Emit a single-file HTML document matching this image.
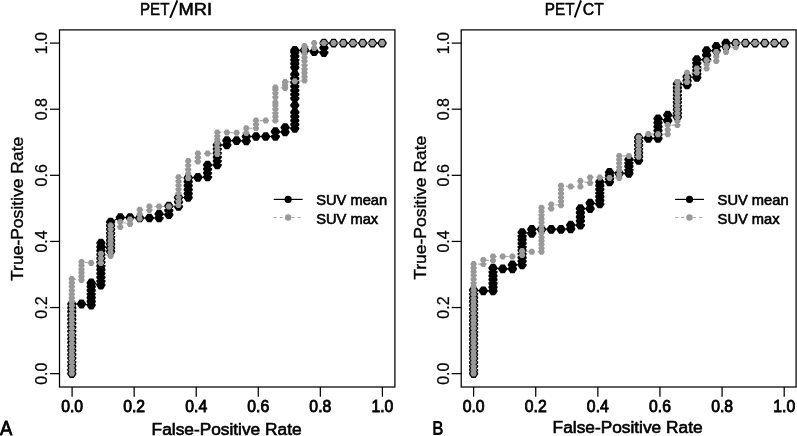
<!DOCTYPE html>
<html><head><meta charset="utf-8"><style>
html,body{margin:0;padding:0;background:#fff;}
svg{display:block;will-change:transform;}
text{font-family:"Liberation Sans",sans-serif;fill:#000;}
</style></head><body>
<svg width="797" height="436" viewBox="0 0 797 436">
<rect x="0" y="0" width="797" height="436" fill="#fff"/>
<rect x="59.5" y="29.9" width="335.40" height="357.10" fill="none" stroke="#000" stroke-width="1.25"/>
<line x1="50.00" y1="373.65" x2="59.5" y2="373.65" stroke="#000" stroke-width="1.25"/>
<line x1="72.10" y1="387.0" x2="72.10" y2="396.70" stroke="#000" stroke-width="1.25"/>
<line x1="50.00" y1="307.54" x2="59.5" y2="307.54" stroke="#000" stroke-width="1.25"/>
<line x1="134.16" y1="387.0" x2="134.16" y2="396.70" stroke="#000" stroke-width="1.25"/>
<line x1="50.00" y1="241.43" x2="59.5" y2="241.43" stroke="#000" stroke-width="1.25"/>
<line x1="196.22" y1="387.0" x2="196.22" y2="396.70" stroke="#000" stroke-width="1.25"/>
<line x1="50.00" y1="175.32" x2="59.5" y2="175.32" stroke="#000" stroke-width="1.25"/>
<line x1="258.28" y1="387.0" x2="258.28" y2="396.70" stroke="#000" stroke-width="1.25"/>
<line x1="50.00" y1="109.21" x2="59.5" y2="109.21" stroke="#000" stroke-width="1.25"/>
<line x1="320.34" y1="387.0" x2="320.34" y2="396.70" stroke="#000" stroke-width="1.25"/>
<line x1="50.00" y1="43.10" x2="59.5" y2="43.10" stroke="#000" stroke-width="1.25"/>
<line x1="382.40" y1="387.0" x2="382.40" y2="396.70" stroke="#000" stroke-width="1.25"/>
<path d="M71.80,373.65 L71.80,369.78 L71.80,365.91 L71.80,362.04 L71.80,358.17 L71.80,354.30 L71.80,350.43 L71.80,346.56 L71.80,342.69 L71.80,338.82 L71.80,334.96 L71.80,331.09 L71.80,327.22 L71.80,323.35 L71.80,319.48 L71.80,315.61 L71.80,311.74 L71.80,307.87 L71.80,304.00 L81.50,304.00 L91.19,305.00 L91.19,301.33 L91.19,297.67 L91.19,294.00 L91.19,290.33 L91.19,286.67 L91.19,283.00 L100.89,285.00 L100.89,281.18 L100.89,277.36 L100.89,273.55 L100.89,269.73 L100.89,265.91 L100.89,262.09 L100.89,258.27 L100.89,254.45 L100.89,250.64 L100.89,246.82 L100.89,243.00 L110.59,251.50 L110.59,247.81 L110.59,244.12 L110.59,240.44 L110.59,236.75 L110.59,233.06 L110.59,229.38 L110.59,225.69 L110.59,222.00 L120.28,217.50 L129.98,217.50 L139.68,218.00 L149.38,218.00 L159.07,218.00 L159.07,214.00 L168.77,214.70 L168.77,210.35 L168.77,206.00 L178.47,206.50 L178.47,202.00 L178.47,197.50 L188.16,197.50 L188.16,193.56 L188.16,189.62 L188.16,185.68 L188.16,181.74 L188.16,177.80 L197.86,177.40 L207.56,177.00 L207.56,173.00 L207.56,169.00 L207.56,165.00 L217.25,165.00 L217.25,161.00 L217.25,157.00 L217.25,153.00 L217.25,149.00 L217.25,145.00 L226.95,145.00 L226.95,140.60 L236.65,140.60 L246.34,141.00 L246.34,136.50 L256.04,136.50 L265.74,136.50 L275.43,136.50 L275.43,131.60 L285.13,132.00 L285.13,127.50 L294.83,128.50 L294.83,124.50 L294.83,120.50 L294.83,116.50 L294.83,112.30 L294.83,105.30 L294.83,98.30 L294.83,94.30 L294.83,90.30 L294.83,86.30 L294.83,82.30 L294.83,78.30 L294.83,74.30 L294.83,67.50 L294.83,63.70 L294.83,59.90 L294.83,56.10 L294.83,52.20 L294.83,50.30 L304.52,50.30 L314.22,51.70 L323.92,52.50 L323.92,47.80 L323.92,43.10 L333.62,43.10 L343.31,43.10 L353.01,43.10 L362.71,43.10 L372.40,43.10 L382.10,43.10" fill="none" stroke="#000" stroke-width="1.1"/>
<path fill="#000" d="M67.2,373 69.8,369.3 73.8,369.3 76.4,373 76.4,374.2 73.8,378 69.8,378 67.2,374.2ZM67.2,369.2 69.8,365.4 73.8,365.4 76.4,369.2 76.4,370.4 73.8,374.1 69.8,374.1 67.2,370.4ZM67.2,365.3 69.8,361.6 73.8,361.6 76.4,365.3 76.4,366.5 73.8,370.3 69.8,370.3 67.2,366.5ZM67.2,361.4 69.8,357.7 73.8,357.7 76.4,361.4 76.4,362.6 73.8,366.4 69.8,366.4 67.2,362.6ZM67.2,357.6 69.8,353.8 73.8,353.8 76.4,357.6 76.4,358.8 73.8,362.5 69.8,362.5 67.2,358.8ZM67.2,353.7 69.8,350 73.8,350 76.4,353.7 76.4,354.9 73.8,358.7 69.8,358.7 67.2,354.9ZM67.2,349.8 69.8,346.1 73.8,346.1 76.4,349.8 76.4,351 73.8,354.8 69.8,354.8 67.2,351ZM67.2,346 69.8,342.2 73.8,342.2 76.4,346 76.4,347.2 73.8,350.9 69.8,350.9 67.2,347.2ZM67.2,342.1 69.8,338.3 73.8,338.3 76.4,342.1 76.4,343.3 73.8,347 69.8,347 67.2,343.3ZM67.2,338.2 69.8,334.5 73.8,334.5 76.4,338.2 76.4,339.4 73.8,343.2 69.8,343.2 67.2,339.4ZM67.2,334.4 69.8,330.6 73.8,330.6 76.4,334.4 76.4,335.6 73.8,339.3 69.8,339.3 67.2,335.6ZM67.2,330.5 69.8,326.7 73.8,326.7 76.4,330.5 76.4,331.7 73.8,335.4 69.8,335.4 67.2,331.7ZM67.2,326.6 69.8,322.9 73.8,322.9 76.4,326.6 76.4,327.8 73.8,331.6 69.8,331.6 67.2,327.8ZM67.2,322.7 69.8,319 73.8,319 76.4,322.7 76.4,323.9 73.8,327.7 69.8,327.7 67.2,323.9ZM67.2,318.9 69.8,315.1 73.8,315.1 76.4,318.9 76.4,320.1 73.8,323.8 69.8,323.8 67.2,320.1ZM67.2,315 69.8,311.3 73.8,311.3 76.4,315 76.4,316.2 73.8,320 69.8,320 67.2,316.2ZM67.2,311.1 69.8,307.4 73.8,307.4 76.4,311.1 76.4,312.3 73.8,316.1 69.8,316.1 67.2,312.3ZM67.2,307.3 69.8,303.5 73.8,303.5 76.4,307.3 76.4,308.5 73.8,312.2 69.8,312.2 67.2,308.5ZM67.2,303.4 69.8,299.6 73.8,299.6 76.4,303.4 76.4,304.6 73.8,308.4 69.8,308.4 67.2,304.6ZM76.9,303.4 79.5,299.6 83.5,299.6 86.1,303.4 86.1,304.6 83.5,308.4 79.5,308.4 76.9,304.6ZM86.6,304.4 89.2,300.6 93.2,300.6 95.8,304.4 95.8,305.6 93.2,309.4 89.2,309.4 86.6,305.6ZM86.6,300.7 89.2,297 93.2,297 95.8,300.7 95.8,301.9 93.2,305.7 89.2,305.7 86.6,301.9ZM86.6,297.1 89.2,293.3 93.2,293.3 95.8,297.1 95.8,298.3 93.2,302 89.2,302 86.6,298.3ZM86.6,293.4 89.2,289.6 93.2,289.6 95.8,293.4 95.8,294.6 93.2,298.4 89.2,298.4 86.6,294.6ZM86.6,289.7 89.2,286 93.2,286 95.8,289.7 95.8,290.9 93.2,294.7 89.2,294.7 86.6,290.9ZM86.6,286.1 89.2,282.3 93.2,282.3 95.8,286.1 95.8,287.3 93.2,291 89.2,291 86.6,287.3ZM86.6,282.4 89.2,278.6 93.2,278.6 95.8,282.4 95.8,283.6 93.2,287.4 89.2,287.4 86.6,283.6ZM96.3,284.4 98.9,280.6 102.9,280.6 105.5,284.4 105.5,285.6 102.9,289.4 98.9,289.4 96.3,285.6ZM96.3,280.6 98.9,276.8 102.9,276.8 105.5,280.6 105.5,281.8 102.9,285.5 98.9,285.5 96.3,281.8ZM96.3,276.8 98.9,273 102.9,273 105.5,276.8 105.5,278 102.9,281.7 98.9,281.7 96.3,278ZM96.3,272.9 98.9,269.2 102.9,269.2 105.5,272.9 105.5,274.1 102.9,277.9 98.9,277.9 96.3,274.1ZM96.3,269.1 98.9,265.4 102.9,265.4 105.5,269.1 105.5,270.3 102.9,274.1 98.9,274.1 96.3,270.3ZM96.3,265.3 98.9,261.6 102.9,261.6 105.5,265.3 105.5,266.5 102.9,270.3 98.9,270.3 96.3,266.5ZM96.3,261.5 98.9,257.7 102.9,257.7 105.5,261.5 105.5,262.7 102.9,266.4 98.9,266.4 96.3,262.7ZM96.3,257.7 98.9,253.9 102.9,253.9 105.5,257.7 105.5,258.9 102.9,262.6 98.9,262.6 96.3,258.9ZM96.3,253.9 98.9,250.1 102.9,250.1 105.5,253.9 105.5,255.1 102.9,258.8 98.9,258.8 96.3,255.1ZM96.3,250 98.9,246.3 102.9,246.3 105.5,250 105.5,251.2 102.9,255 98.9,255 96.3,251.2ZM96.3,246.2 98.9,242.5 102.9,242.5 105.5,246.2 105.5,247.4 102.9,251.2 98.9,251.2 96.3,247.4ZM96.3,242.4 98.9,238.7 102.9,238.7 105.5,242.4 105.5,243.6 102.9,247.3 98.9,247.3 96.3,243.6ZM106,250.9 108.6,247.2 112.6,247.2 115.2,250.9 115.2,252.1 112.6,255.8 108.6,255.8 106,252.1ZM106,247.2 108.6,243.5 112.6,243.5 115.2,247.2 115.2,248.4 112.6,252.2 108.6,252.2 106,248.4ZM106,243.5 108.6,239.8 112.6,239.8 115.2,243.5 115.2,244.7 112.6,248.5 108.6,248.5 106,244.7ZM106,239.8 108.6,236.1 112.6,236.1 115.2,239.8 115.2,241 112.6,244.8 108.6,244.8 106,241ZM106,236.2 108.6,232.4 112.6,232.4 115.2,236.2 115.2,237.3 112.6,241.1 108.6,241.1 106,237.3ZM106,232.5 108.6,228.7 112.6,228.7 115.2,232.5 115.2,233.7 112.6,237.4 108.6,237.4 106,233.7ZM106,228.8 108.6,225 112.6,225 115.2,228.8 115.2,230 112.6,233.7 108.6,233.7 106,230ZM106,225.1 108.6,221.3 112.6,221.3 115.2,225.1 115.2,226.3 112.6,230 108.6,230 106,226.3ZM106,221.4 108.6,217.7 112.6,217.7 115.2,221.4 115.2,222.6 112.6,226.3 108.6,226.3 106,222.6ZM115.7,216.9 118.3,213.2 122.3,213.2 124.9,216.9 124.9,218.1 122.3,221.8 118.3,221.8 115.7,218.1ZM125.4,216.9 128,213.2 132,213.2 134.6,216.9 134.6,218.1 132,221.8 128,221.8 125.4,218.1ZM135.1,217.4 137.7,213.7 141.7,213.7 144.3,217.4 144.3,218.6 141.7,222.3 137.7,222.3 135.1,218.6ZM144.8,217.4 147.4,213.7 151.4,213.7 154,217.4 154,218.6 151.4,222.3 147.4,222.3 144.8,218.6ZM154.5,217.4 157.1,213.7 161.1,213.7 163.7,217.4 163.7,218.6 161.1,222.3 157.1,222.3 154.5,218.6ZM154.5,213.4 157.1,209.7 161.1,209.7 163.7,213.4 163.7,214.6 161.1,218.3 157.1,218.3 154.5,214.6ZM164.2,214.1 166.8,210.3 170.8,210.3 173.4,214.1 173.4,215.3 170.8,219 166.8,219 164.2,215.3ZM164.2,209.8 166.8,206 170.8,206 173.4,209.8 173.4,210.9 170.8,214.7 166.8,214.7 164.2,210.9ZM164.2,205.4 166.8,201.7 170.8,201.7 173.4,205.4 173.4,206.6 170.8,210.3 166.8,210.3 164.2,206.6ZM173.9,205.9 176.5,202.2 180.5,202.2 183.1,205.9 183.1,207.1 180.5,210.8 176.5,210.8 173.9,207.1ZM173.9,201.4 176.5,197.7 180.5,197.7 183.1,201.4 183.1,202.6 180.5,206.3 176.5,206.3 173.9,202.6ZM173.9,196.9 176.5,193.2 180.5,193.2 183.1,196.9 183.1,198.1 180.5,201.8 176.5,201.8 173.9,198.1ZM183.6,196.9 186.2,193.2 190.2,193.2 192.8,196.9 192.8,198.1 190.2,201.8 186.2,201.8 183.6,198.1ZM183.6,193 186.2,189.2 190.2,189.2 192.8,193 192.8,194.2 190.2,197.9 186.2,197.9 183.6,194.2ZM183.6,189 186.2,185.3 190.2,185.3 192.8,189 192.8,190.2 190.2,194 186.2,194 183.6,190.2ZM183.6,185.1 186.2,181.3 190.2,181.3 192.8,185.1 192.8,186.3 190.2,190 186.2,190 183.6,186.3ZM183.6,181.1 186.2,177.4 190.2,177.4 192.8,181.1 192.8,182.3 190.2,186.1 186.2,186.1 183.6,182.3ZM183.6,177.2 186.2,173.5 190.2,173.5 192.8,177.2 192.8,178.4 190.2,182.2 186.2,182.2 183.6,178.4ZM193.3,176.8 195.9,173.1 199.9,173.1 202.5,176.8 202.5,178 199.9,181.8 195.9,181.8 193.3,178ZM203,176.4 205.6,172.7 209.6,172.7 212.2,176.4 212.2,177.6 209.6,181.3 205.6,181.3 203,177.6ZM203,172.4 205.6,168.7 209.6,168.7 212.2,172.4 212.2,173.6 209.6,177.3 205.6,177.3 203,173.6ZM203,168.4 205.6,164.7 209.6,164.7 212.2,168.4 212.2,169.6 209.6,173.3 205.6,173.3 203,169.6ZM203,164.4 205.6,160.7 209.6,160.7 212.2,164.4 212.2,165.6 209.6,169.3 205.6,169.3 203,165.6ZM212.7,164.4 215.3,160.7 219.3,160.7 221.9,164.4 221.9,165.6 219.3,169.3 215.3,169.3 212.7,165.6ZM212.7,160.4 215.3,156.7 219.3,156.7 221.9,160.4 221.9,161.6 219.3,165.3 215.3,165.3 212.7,161.6ZM212.7,156.4 215.3,152.7 219.3,152.7 221.9,156.4 221.9,157.6 219.3,161.3 215.3,161.3 212.7,157.6ZM212.7,152.4 215.3,148.7 219.3,148.7 221.9,152.4 221.9,153.6 219.3,157.3 215.3,157.3 212.7,153.6ZM212.7,148.4 215.3,144.7 219.3,144.7 221.9,148.4 221.9,149.6 219.3,153.3 215.3,153.3 212.7,149.6ZM212.7,144.4 215.3,140.7 219.3,140.7 221.9,144.4 221.9,145.6 219.3,149.3 215.3,149.3 212.7,145.6ZM222.3,144.4 224.9,140.7 228.9,140.7 231.5,144.4 231.5,145.6 228.9,149.3 224.9,149.3 222.3,145.6ZM222.3,140 224.9,136.2 228.9,136.2 231.5,140 231.5,141.2 228.9,144.9 224.9,144.9 222.3,141.2ZM232,140 234.6,136.2 238.6,136.2 241.2,140 241.2,141.2 238.6,144.9 234.6,144.9 232,141.2ZM241.7,140.4 244.3,136.7 248.3,136.7 250.9,140.4 250.9,141.6 248.3,145.3 244.3,145.3 241.7,141.6ZM241.7,135.9 244.3,132.2 248.3,132.2 250.9,135.9 250.9,137.1 248.3,140.8 244.3,140.8 241.7,137.1ZM251.4,135.9 254,132.2 258,132.2 260.6,135.9 260.6,137.1 258,140.8 254,140.8 251.4,137.1ZM261.1,135.9 263.7,132.2 267.7,132.2 270.3,135.9 270.3,137.1 267.7,140.8 263.7,140.8 261.1,137.1ZM270.8,135.9 273.4,132.2 277.4,132.2 280,135.9 280,137.1 277.4,140.8 273.4,140.8 270.8,137.1ZM270.8,131 273.4,127.2 277.4,127.2 280,131 280,132.2 277.4,135.9 273.4,135.9 270.8,132.2ZM280.5,131.4 283.1,127.7 287.1,127.7 289.7,131.4 289.7,132.6 287.1,136.3 283.1,136.3 280.5,132.6ZM280.5,126.9 283.1,123.2 287.1,123.2 289.7,126.9 289.7,128.1 287.1,131.8 283.1,131.8 280.5,128.1ZM290.2,127.9 292.8,124.2 296.8,124.2 299.4,127.9 299.4,129.1 296.8,132.8 292.8,132.8 290.2,129.1ZM290.2,123.9 292.8,120.2 296.8,120.2 299.4,123.9 299.4,125.1 296.8,128.8 292.8,128.8 290.2,125.1ZM290.2,119.9 292.8,116.2 296.8,116.2 299.4,119.9 299.4,121.1 296.8,124.8 292.8,124.8 290.2,121.1ZM290.2,115.9 292.8,112.2 296.8,112.2 299.4,115.9 299.4,117.1 296.8,120.8 292.8,120.8 290.2,117.1ZM290.2,111.7 292.8,108 296.8,108 299.4,111.7 299.4,112.9 296.8,116.6 292.8,116.6 290.2,112.9ZM290.2,104.7 292.8,101 296.8,101 299.4,104.7 299.4,105.9 296.8,109.6 292.8,109.6 290.2,105.9ZM290.2,97.7 292.8,94 296.8,94 299.4,97.7 299.4,98.9 296.8,102.6 292.8,102.6 290.2,98.9ZM290.2,93.7 292.8,90 296.8,90 299.4,93.7 299.4,94.9 296.8,98.6 292.8,98.6 290.2,94.9ZM290.2,89.7 292.8,86 296.8,86 299.4,89.7 299.4,90.9 296.8,94.6 292.8,94.6 290.2,90.9ZM290.2,85.7 292.8,82 296.8,82 299.4,85.7 299.4,86.9 296.8,90.6 292.8,90.6 290.2,86.9ZM290.2,81.7 292.8,78 296.8,78 299.4,81.7 299.4,82.9 296.8,86.6 292.8,86.6 290.2,82.9ZM290.2,77.7 292.8,74 296.8,74 299.4,77.7 299.4,78.9 296.8,82.6 292.8,82.6 290.2,78.9ZM290.2,73.7 292.8,70 296.8,70 299.4,73.7 299.4,74.9 296.8,78.6 292.8,78.6 290.2,74.9ZM290.2,66.9 292.8,63.1 296.8,63.1 299.4,66.9 299.4,68.1 296.8,71.8 292.8,71.8 290.2,68.1ZM290.2,63.1 292.8,59.4 296.8,59.4 299.4,63.1 299.4,64.3 296.8,68 292.8,68 290.2,64.3ZM290.2,59.3 292.8,55.5 296.8,55.5 299.4,59.3 299.4,60.5 296.8,64.2 292.8,64.2 290.2,60.5ZM290.2,55.5 292.8,51.8 296.8,51.8 299.4,55.5 299.4,56.7 296.8,60.5 292.8,60.5 290.2,56.7ZM290.2,51.6 292.8,47.9 296.8,47.9 299.4,51.6 299.4,52.8 296.8,56.6 292.8,56.6 290.2,52.8ZM290.2,49.7 292.8,45.9 296.8,45.9 299.4,49.7 299.4,50.9 296.8,54.6 292.8,54.6 290.2,50.9ZM299.9,49.7 302.5,45.9 306.5,45.9 309.1,49.7 309.1,50.9 306.5,54.6 302.5,54.6 299.9,50.9ZM309.6,51.1 312.2,47.4 316.2,47.4 318.8,51.1 318.8,52.3 316.2,56.1 312.2,56.1 309.6,52.3ZM319.3,51.9 321.9,48.1 325.9,48.1 328.5,51.9 328.5,53.1 325.9,56.9 321.9,56.9 319.3,53.1ZM319.3,47.2 321.9,43.4 325.9,43.4 328.5,47.2 328.5,48.4 325.9,52.1 321.9,52.1 319.3,48.4ZM319.3,42.5 321.9,38.8 325.9,38.8 328.5,42.5 328.5,43.7 325.9,47.5 321.9,47.5 319.3,43.7ZM329,42.5 331.6,38.8 335.6,38.8 338.2,42.5 338.2,43.7 335.6,47.5 331.6,47.5 329,43.7ZM338.7,42.5 341.3,38.8 345.3,38.8 347.9,42.5 347.9,43.7 345.3,47.5 341.3,47.5 338.7,43.7ZM348.4,42.5 351,38.8 355,38.8 357.6,42.5 357.6,43.7 355,47.5 351,47.5 348.4,43.7ZM358.1,42.5 360.7,38.8 364.7,38.8 367.3,42.5 367.3,43.7 364.7,47.5 360.7,47.5 358.1,43.7ZM367.8,42.5 370.4,38.8 374.4,38.8 377,42.5 377,43.7 374.4,47.5 370.4,47.5 367.8,43.7ZM377.5,42.5 380.1,38.8 384.1,38.8 386.7,42.5 386.7,43.7 384.1,47.5 380.1,47.5 377.5,43.7Z"/>
<path d="M71.80,373.65 L71.80,369.86 L71.80,366.08 L71.80,362.29 L71.80,358.51 L71.80,354.72 L71.80,350.93 L71.80,347.15 L71.80,343.36 L71.80,339.58 L71.80,335.79 L71.80,332.00 L71.80,328.22 L71.80,324.43 L71.80,320.65 L71.80,316.86 L71.80,313.07 L71.80,309.29 L71.80,305.50 L71.80,301.72 L71.80,297.93 L71.80,294.14 L71.80,290.36 L71.80,286.57 L71.80,282.79 L71.80,279.00 L81.50,280.00 L81.50,276.40 L81.50,272.80 L81.50,269.20 L81.50,265.60 L81.50,262.00 L91.19,263.00 L100.89,263.00 L100.89,258.35 L100.89,253.70 L110.59,256.00 L110.59,252.18 L110.59,248.35 L110.59,244.53 L110.59,240.70 L110.59,236.88 L110.59,233.05 L110.59,229.22 L110.59,225.40 L120.28,227.00 L120.28,222.00 L129.98,224.00 L129.98,219.50 L139.68,218.60 L139.68,214.20 L139.68,209.80 L149.38,210.00 L149.38,206.50 L159.07,206.50 L168.77,206.50 L178.47,205.00 L178.47,201.04 L178.47,197.09 L178.47,193.13 L178.47,189.17 L178.47,185.21 L178.47,181.26 L178.47,177.30 L188.16,178.00 L188.16,173.75 L188.16,169.50 L188.16,165.25 L188.16,161.00 L197.86,161.50 L197.86,157.50 L197.86,153.50 L207.56,153.50 L217.25,154.00 L217.25,150.40 L217.25,146.80 L217.25,143.20 L217.25,139.60 L217.25,136.00 L217.25,132.40 L226.95,132.40 L236.65,132.70 L246.34,133.00 L246.34,128.20 L256.04,128.20 L256.04,124.40 L256.04,120.60 L265.74,120.60 L275.43,120.60 L275.43,116.80 L275.43,113.00 L275.43,109.20 L275.43,105.40 L275.43,102.50 L275.43,97.00 L275.43,93.30 L275.43,89.60 L275.43,87.50 L285.13,88.00 L285.13,85.00 L285.13,82.00 L294.83,81.30 L304.52,80.50 L304.52,76.67 L304.52,72.83 L304.52,69.00 L304.52,65.17 L304.52,61.33 L304.52,57.50 L304.52,53.67 L304.52,49.83 L304.52,46.00 L314.22,48.00 L314.22,43.10 L323.92,43.10 L333.62,43.10 L343.31,43.10 L353.01,43.10 L362.71,43.10 L372.40,43.10 L382.10,43.10" fill="none" stroke="#aaa" stroke-width="1.1" stroke-dasharray="3,3"/>
<path fill="#999" d="M68.7,372.9 70.3,370.6 73.3,370.6 74.9,372.9 74.9,374.3 73.3,376.6 70.3,376.6 68.7,374.3ZM68.7,369.2 70.3,366.9 73.3,366.9 74.9,369.2 74.9,370.6 73.3,372.9 70.3,372.9 68.7,370.6ZM68.7,365.4 70.3,363.1 73.3,363.1 74.9,365.4 74.9,366.8 73.3,369.1 70.3,369.1 68.7,366.8ZM68.7,361.6 70.3,359.3 73.3,359.3 74.9,361.6 74.9,363 73.3,365.3 70.3,365.3 68.7,363ZM68.7,357.8 70.3,355.5 73.3,355.5 74.9,357.8 74.9,359.2 73.3,361.5 70.3,361.5 68.7,359.2ZM68.7,354 70.3,351.7 73.3,351.7 74.9,354 74.9,355.4 73.3,357.7 70.3,357.7 68.7,355.4ZM68.7,350.2 70.3,347.9 73.3,347.9 74.9,350.2 74.9,351.6 73.3,353.9 70.3,353.9 68.7,351.6ZM68.7,346.4 70.3,344.1 73.3,344.1 74.9,346.4 74.9,347.8 73.3,350.1 70.3,350.1 68.7,347.8ZM68.7,342.7 70.3,340.4 73.3,340.4 74.9,342.7 74.9,344.1 73.3,346.4 70.3,346.4 68.7,344.1ZM68.7,338.9 70.3,336.6 73.3,336.6 74.9,338.9 74.9,340.3 73.3,342.6 70.3,342.6 68.7,340.3ZM68.7,335.1 70.3,332.8 73.3,332.8 74.9,335.1 74.9,336.5 73.3,338.8 70.3,338.8 68.7,336.5ZM68.7,331.3 70.3,329 73.3,329 74.9,331.3 74.9,332.7 73.3,335 70.3,335 68.7,332.7ZM68.7,327.5 70.3,325.2 73.3,325.2 74.9,327.5 74.9,328.9 73.3,331.2 70.3,331.2 68.7,328.9ZM68.7,323.7 70.3,321.4 73.3,321.4 74.9,323.7 74.9,325.1 73.3,327.4 70.3,327.4 68.7,325.1ZM68.7,319.9 70.3,317.6 73.3,317.6 74.9,319.9 74.9,321.3 73.3,323.6 70.3,323.6 68.7,321.3ZM68.7,316.2 70.3,313.9 73.3,313.9 74.9,316.2 74.9,317.6 73.3,319.9 70.3,319.9 68.7,317.6ZM68.7,312.4 70.3,310.1 73.3,310.1 74.9,312.4 74.9,313.8 73.3,316.1 70.3,316.1 68.7,313.8ZM68.7,308.6 70.3,306.3 73.3,306.3 74.9,308.6 74.9,310 73.3,312.3 70.3,312.3 68.7,310ZM68.7,304.8 70.3,302.5 73.3,302.5 74.9,304.8 74.9,306.2 73.3,308.5 70.3,308.5 68.7,306.2ZM68.7,301 70.3,298.7 73.3,298.7 74.9,301 74.9,302.4 73.3,304.7 70.3,304.7 68.7,302.4ZM68.7,297.2 70.3,294.9 73.3,294.9 74.9,297.2 74.9,298.6 73.3,300.9 70.3,300.9 68.7,298.6ZM68.7,293.4 70.3,291.1 73.3,291.1 74.9,293.4 74.9,294.8 73.3,297.1 70.3,297.1 68.7,294.8ZM68.7,289.7 70.3,287.4 73.3,287.4 74.9,289.7 74.9,291.1 73.3,293.4 70.3,293.4 68.7,291.1ZM68.7,285.9 70.3,283.6 73.3,283.6 74.9,285.9 74.9,287.3 73.3,289.6 70.3,289.6 68.7,287.3ZM68.7,282.1 70.3,279.8 73.3,279.8 74.9,282.1 74.9,283.5 73.3,285.8 70.3,285.8 68.7,283.5ZM68.7,278.3 70.3,276 73.3,276 74.9,278.3 74.9,279.7 73.3,282 70.3,282 68.7,279.7ZM78.4,279.3 80,277 83,277 84.6,279.3 84.6,280.7 83,283 80,283 78.4,280.7ZM78.4,275.7 80,273.4 83,273.4 84.6,275.7 84.6,277.1 83,279.4 80,279.4 78.4,277.1ZM78.4,272.1 80,269.8 83,269.8 84.6,272.1 84.6,273.5 83,275.8 80,275.8 78.4,273.5ZM78.4,268.5 80,266.2 83,266.2 84.6,268.5 84.6,269.9 83,272.2 80,272.2 78.4,269.9ZM78.4,264.9 80,262.6 83,262.6 84.6,264.9 84.6,266.3 83,268.6 80,268.6 78.4,266.3ZM78.4,261.3 80,259 83,259 84.6,261.3 84.6,262.7 83,265 80,265 78.4,262.7ZM88.1,262.3 89.7,260 92.7,260 94.3,262.3 94.3,263.7 92.7,266 89.7,266 88.1,263.7ZM97.8,262.3 99.4,260 102.4,260 104,262.3 104,263.7 102.4,266 99.4,266 97.8,263.7ZM97.8,257.7 99.4,255.4 102.4,255.4 104,257.7 104,259.1 102.4,261.4 99.4,261.4 97.8,259.1ZM97.8,253 99.4,250.7 102.4,250.7 104,253 104,254.4 102.4,256.7 99.4,256.7 97.8,254.4ZM107.5,255.3 109.1,253 112.1,253 113.7,255.3 113.7,256.7 112.1,259 109.1,259 107.5,256.7ZM107.5,251.5 109.1,249.2 112.1,249.2 113.7,251.5 113.7,252.9 112.1,255.2 109.1,255.2 107.5,252.9ZM107.5,247.7 109.1,245.3 112.1,245.3 113.7,247.7 113.7,249 112.1,251.3 109.1,251.3 107.5,249ZM107.5,243.8 109.1,241.5 112.1,241.5 113.7,243.8 113.7,245.2 112.1,247.5 109.1,247.5 107.5,245.2ZM107.5,240 109.1,237.7 112.1,237.7 113.7,240 113.7,241.4 112.1,243.7 109.1,243.7 107.5,241.4ZM107.5,236.2 109.1,233.9 112.1,233.9 113.7,236.2 113.7,237.6 112.1,239.9 109.1,239.9 107.5,237.6ZM107.5,232.4 109.1,230.1 112.1,230.1 113.7,232.4 113.7,233.8 112.1,236.1 109.1,236.1 107.5,233.8ZM107.5,228.5 109.1,226.2 112.1,226.2 113.7,228.5 113.7,229.9 112.1,232.2 109.1,232.2 107.5,229.9ZM107.5,224.7 109.1,222.4 112.1,222.4 113.7,224.7 113.7,226.1 112.1,228.4 109.1,228.4 107.5,226.1ZM117.2,226.3 118.8,224 121.8,224 123.4,226.3 123.4,227.7 121.8,230 118.8,230 117.2,227.7ZM117.2,221.3 118.8,219 121.8,219 123.4,221.3 123.4,222.7 121.8,225 118.8,225 117.2,222.7ZM126.9,223.3 128.5,221 131.5,221 133.1,223.3 133.1,224.7 131.5,227 128.5,227 126.9,224.7ZM126.9,218.8 128.5,216.5 131.5,216.5 133.1,218.8 133.1,220.2 131.5,222.5 128.5,222.5 126.9,220.2ZM136.6,217.9 138.2,215.6 141.2,215.6 142.8,217.9 142.8,219.3 141.2,221.6 138.2,221.6 136.6,219.3ZM136.6,213.5 138.2,211.2 141.2,211.2 142.8,213.5 142.8,214.9 141.2,217.2 138.2,217.2 136.6,214.9ZM136.6,209.1 138.2,206.8 141.2,206.8 142.8,209.1 142.8,210.5 141.2,212.8 138.2,212.8 136.6,210.5ZM146.3,209.3 147.9,207 150.9,207 152.5,209.3 152.5,210.7 150.9,213 147.9,213 146.3,210.7ZM146.3,205.8 147.9,203.5 150.9,203.5 152.5,205.8 152.5,207.2 150.9,209.5 147.9,209.5 146.3,207.2ZM156,205.8 157.6,203.5 160.6,203.5 162.2,205.8 162.2,207.2 160.6,209.5 157.6,209.5 156,207.2ZM165.7,205.8 167.3,203.5 170.3,203.5 171.9,205.8 171.9,207.2 170.3,209.5 167.3,209.5 165.7,207.2ZM175.4,204.3 177,202 180,202 181.6,204.3 181.6,205.7 180,208 177,208 175.4,205.7ZM175.4,200.3 177,198 180,198 181.6,200.3 181.6,201.7 180,204 177,204 175.4,201.7ZM175.4,196.4 177,194.1 180,194.1 181.6,196.4 181.6,197.8 180,200.1 177,200.1 175.4,197.8ZM175.4,192.4 177,190.1 180,190.1 181.6,192.4 181.6,193.8 180,196.1 177,196.1 175.4,193.8ZM175.4,188.5 177,186.2 180,186.2 181.6,188.5 181.6,189.9 180,192.2 177,192.2 175.4,189.9ZM175.4,184.5 177,182.2 180,182.2 181.6,184.5 181.6,185.9 180,188.2 177,188.2 175.4,185.9ZM175.4,180.6 177,178.3 180,178.3 181.6,180.6 181.6,182 180,184.3 177,184.3 175.4,182ZM175.4,176.6 177,174.3 180,174.3 181.6,176.6 181.6,178 180,180.3 177,180.3 175.4,178ZM185.1,177.3 186.7,175 189.7,175 191.3,177.3 191.3,178.7 189.7,181 186.7,181 185.1,178.7ZM185.1,173.1 186.7,170.8 189.7,170.8 191.3,173.1 191.3,174.4 189.7,176.8 186.7,176.8 185.1,174.4ZM185.1,168.8 186.7,166.5 189.7,166.5 191.3,168.8 191.3,170.2 189.7,172.5 186.7,172.5 185.1,170.2ZM185.1,164.6 186.7,162.2 189.7,162.2 191.3,164.6 191.3,165.9 189.7,168.2 186.7,168.2 185.1,165.9ZM185.1,160.3 186.7,158 189.7,158 191.3,160.3 191.3,161.7 189.7,164 186.7,164 185.1,161.7ZM194.8,160.8 196.4,158.5 199.4,158.5 201,160.8 201,162.2 199.4,164.5 196.4,164.5 194.8,162.2ZM194.8,156.8 196.4,154.5 199.4,154.5 201,156.8 201,158.2 199.4,160.5 196.4,160.5 194.8,158.2ZM194.8,152.8 196.4,150.5 199.4,150.5 201,152.8 201,154.2 199.4,156.5 196.4,156.5 194.8,154.2ZM204.5,152.8 206.1,150.5 209.1,150.5 210.7,152.8 210.7,154.2 209.1,156.5 206.1,156.5 204.5,154.2ZM214.2,153.3 215.8,151 218.8,151 220.4,153.3 220.4,154.7 218.8,157 215.8,157 214.2,154.7ZM214.2,149.7 215.8,147.4 218.8,147.4 220.4,149.7 220.4,151.1 218.8,153.4 215.8,153.4 214.2,151.1ZM214.2,146.1 215.8,143.8 218.8,143.8 220.4,146.1 220.4,147.5 218.8,149.8 215.8,149.8 214.2,147.5ZM214.2,142.5 215.8,140.2 218.8,140.2 220.4,142.5 220.4,143.9 218.8,146.2 215.8,146.2 214.2,143.9ZM214.2,138.9 215.8,136.6 218.8,136.6 220.4,138.9 220.4,140.3 218.8,142.6 215.8,142.6 214.2,140.3ZM214.2,135.3 215.8,133 218.8,133 220.4,135.3 220.4,136.7 218.8,139 215.8,139 214.2,136.7ZM214.2,131.7 215.8,129.4 218.8,129.4 220.4,131.7 220.4,133.1 218.8,135.4 215.8,135.4 214.2,133.1ZM223.8,131.7 225.4,129.4 228.4,129.4 230,131.7 230,133.1 228.4,135.4 225.4,135.4 223.8,133.1ZM233.5,132 235.1,129.7 238.1,129.7 239.7,132 239.7,133.4 238.1,135.7 235.1,135.7 233.5,133.4ZM243.2,132.3 244.8,130 247.8,130 249.4,132.3 249.4,133.7 247.8,136 244.8,136 243.2,133.7ZM243.2,127.5 244.8,125.2 247.8,125.2 249.4,127.5 249.4,128.9 247.8,131.2 244.8,131.2 243.2,128.9ZM252.9,127.5 254.5,125.2 257.5,125.2 259.1,127.5 259.1,128.9 257.5,131.2 254.5,131.2 252.9,128.9ZM252.9,123.7 254.5,121.4 257.5,121.4 259.1,123.7 259.1,125.1 257.5,127.4 254.5,127.4 252.9,125.1ZM252.9,119.9 254.5,117.6 257.5,117.6 259.1,119.9 259.1,121.3 257.5,123.6 254.5,123.6 252.9,121.3ZM262.6,119.9 264.2,117.6 267.2,117.6 268.8,119.9 268.8,121.3 267.2,123.6 264.2,123.6 262.6,121.3ZM272.3,119.9 273.9,117.6 276.9,117.6 278.5,119.9 278.5,121.3 276.9,123.6 273.9,123.6 272.3,121.3ZM272.3,116.1 273.9,113.8 276.9,113.8 278.5,116.1 278.5,117.5 276.9,119.8 273.9,119.8 272.3,117.5ZM272.3,112.3 273.9,110 276.9,110 278.5,112.3 278.5,113.7 276.9,116 273.9,116 272.3,113.7ZM272.3,108.5 273.9,106.2 276.9,106.2 278.5,108.5 278.5,109.9 276.9,112.2 273.9,112.2 272.3,109.9ZM272.3,104.7 273.9,102.4 276.9,102.4 278.5,104.7 278.5,106.1 276.9,108.4 273.9,108.4 272.3,106.1ZM272.3,101.8 273.9,99.5 276.9,99.5 278.5,101.8 278.5,103.2 276.9,105.5 273.9,105.5 272.3,103.2ZM272.3,96.3 273.9,94 276.9,94 278.5,96.3 278.5,97.7 276.9,100 273.9,100 272.3,97.7ZM272.3,92.6 273.9,90.3 276.9,90.3 278.5,92.6 278.5,94 276.9,96.3 273.9,96.3 272.3,94ZM272.3,88.9 273.9,86.6 276.9,86.6 278.5,88.9 278.5,90.3 276.9,92.6 273.9,92.6 272.3,90.3ZM272.3,86.8 273.9,84.5 276.9,84.5 278.5,86.8 278.5,88.2 276.9,90.5 273.9,90.5 272.3,88.2ZM282,87.3 283.6,85 286.6,85 288.2,87.3 288.2,88.7 286.6,91 283.6,91 282,88.7ZM282,84.3 283.6,82 286.6,82 288.2,84.3 288.2,85.7 286.6,88 283.6,88 282,85.7ZM282,81.3 283.6,79 286.6,79 288.2,81.3 288.2,82.7 286.6,85 283.6,85 282,82.7ZM291.7,80.6 293.3,78.3 296.3,78.3 297.9,80.6 297.9,82 296.3,84.3 293.3,84.3 291.7,82ZM301.4,79.8 303,77.5 306,77.5 307.6,79.8 307.6,81.2 306,83.5 303,83.5 301.4,81.2ZM301.4,76 303,73.7 306,73.7 307.6,76 307.6,77.4 306,79.7 303,79.7 301.4,77.4ZM301.4,72.1 303,69.8 306,69.8 307.6,72.1 307.6,73.5 306,75.8 303,75.8 301.4,73.5ZM301.4,68.3 303,66 306,66 307.6,68.3 307.6,69.7 306,72 303,72 301.4,69.7ZM301.4,64.5 303,62.2 306,62.2 307.6,64.5 307.6,65.9 306,68.2 303,68.2 301.4,65.9ZM301.4,60.6 303,58.3 306,58.3 307.6,60.6 307.6,62 306,64.3 303,64.3 301.4,62ZM301.4,56.8 303,54.5 306,54.5 307.6,56.8 307.6,58.2 306,60.5 303,60.5 301.4,58.2ZM301.4,53 303,50.7 306,50.7 307.6,53 307.6,54.4 306,56.7 303,56.7 301.4,54.4ZM301.4,49.1 303,46.8 306,46.8 307.6,49.1 307.6,50.5 306,52.8 303,52.8 301.4,50.5ZM301.4,45.3 303,43 306,43 307.6,45.3 307.6,46.7 306,49 303,49 301.4,46.7ZM311.1,47.3 312.7,45 315.7,45 317.3,47.3 317.3,48.7 315.7,51 312.7,51 311.1,48.7ZM311.1,42.4 312.7,40.1 315.7,40.1 317.3,42.4 317.3,43.8 315.7,46.1 312.7,46.1 311.1,43.8ZM320.8,42.4 322.4,40.1 325.4,40.1 327,42.4 327,43.8 325.4,46.1 322.4,46.1 320.8,43.8ZM330.5,42.4 332.1,40.1 335.1,40.1 336.7,42.4 336.7,43.8 335.1,46.1 332.1,46.1 330.5,43.8ZM340.2,42.4 341.8,40.1 344.8,40.1 346.4,42.4 346.4,43.8 344.8,46.1 341.8,46.1 340.2,43.8ZM349.9,42.4 351.5,40.1 354.5,40.1 356.1,42.4 356.1,43.8 354.5,46.1 351.5,46.1 349.9,43.8ZM359.6,42.4 361.2,40.1 364.2,40.1 365.8,42.4 365.8,43.8 364.2,46.1 361.2,46.1 359.6,43.8ZM369.3,42.4 370.9,40.1 373.9,40.1 375.5,42.4 375.5,43.8 373.9,46.1 370.9,46.1 369.3,43.8ZM379,42.4 380.6,40.1 383.6,40.1 385.2,42.4 385.2,43.8 383.6,46.1 380.6,46.1 379,43.8Z"/>
<rect x="461.2" y="29.9" width="334.90" height="357.10" fill="none" stroke="#000" stroke-width="1.25"/>
<line x1="451.70" y1="373.65" x2="461.2" y2="373.65" stroke="#000" stroke-width="1.25"/>
<line x1="473.60" y1="387.0" x2="473.60" y2="396.70" stroke="#000" stroke-width="1.25"/>
<line x1="451.70" y1="307.54" x2="461.2" y2="307.54" stroke="#000" stroke-width="1.25"/>
<line x1="535.72" y1="387.0" x2="535.72" y2="396.70" stroke="#000" stroke-width="1.25"/>
<line x1="451.70" y1="241.43" x2="461.2" y2="241.43" stroke="#000" stroke-width="1.25"/>
<line x1="597.84" y1="387.0" x2="597.84" y2="396.70" stroke="#000" stroke-width="1.25"/>
<line x1="451.70" y1="175.32" x2="461.2" y2="175.32" stroke="#000" stroke-width="1.25"/>
<line x1="659.96" y1="387.0" x2="659.96" y2="396.70" stroke="#000" stroke-width="1.25"/>
<line x1="451.70" y1="109.21" x2="461.2" y2="109.21" stroke="#000" stroke-width="1.25"/>
<line x1="722.08" y1="387.0" x2="722.08" y2="396.70" stroke="#000" stroke-width="1.25"/>
<line x1="451.70" y1="43.10" x2="461.2" y2="43.10" stroke="#000" stroke-width="1.25"/>
<line x1="784.20" y1="387.0" x2="784.20" y2="396.70" stroke="#000" stroke-width="1.25"/>
<path d="M473.60,373.65 L473.60,369.86 L473.60,366.06 L473.60,362.27 L473.60,358.48 L473.60,354.68 L473.60,350.89 L473.60,347.10 L473.60,343.30 L473.60,339.51 L473.60,335.72 L473.60,331.92 L473.60,328.13 L473.60,324.34 L473.60,320.55 L473.60,316.75 L473.60,312.96 L473.60,309.17 L473.60,305.37 L473.60,301.58 L473.60,297.79 L473.60,293.99 L473.60,290.20 L483.31,290.90 L493.01,290.90 L493.01,287.12 L493.01,283.33 L493.01,279.55 L493.01,275.77 L493.01,271.98 L493.01,268.20 L502.72,268.90 L512.43,268.90 L512.43,264.80 L522.13,264.80 L522.13,261.21 L522.13,257.62 L522.13,254.03 L522.13,250.44 L522.13,246.86 L522.13,243.27 L522.13,239.68 L522.13,236.09 L522.13,232.50 L531.84,233.30 L531.84,229.30 L541.54,229.30 L551.25,229.30 L560.96,229.30 L570.66,228.80 L570.66,225.10 L580.37,225.10 L580.37,220.97 L580.37,216.85 L580.37,212.72 L580.37,208.60 L590.08,208.60 L590.08,203.10 L599.78,204.00 L599.78,200.33 L599.78,196.67 L599.78,193.00 L599.78,189.33 L599.78,185.67 L599.78,182.00 L609.49,182.00 L609.49,178.80 L609.49,175.60 L609.49,172.40 L619.19,173.30 L628.90,173.30 L628.90,169.85 L628.90,166.40 L628.90,162.95 L628.90,159.50 L638.61,160.50 L638.61,156.67 L638.61,152.83 L638.61,149.00 L638.61,145.17 L638.61,141.33 L638.61,137.50 L648.31,138.40 L658.02,138.40 L658.02,134.46 L658.02,130.52 L658.02,126.58 L658.02,122.64 L658.02,118.70 L667.73,120.60 L667.73,115.00 L677.43,116.90 L677.43,113.23 L677.43,109.57 L677.43,105.90 L677.43,102.23 L677.43,98.57 L677.43,94.90 L677.43,91.23 L677.43,87.57 L677.43,83.90 L687.14,85.00 L687.14,80.90 L687.14,76.80 L696.84,77.50 L696.84,73.92 L696.84,70.34 L696.84,66.76 L696.84,63.18 L696.84,59.60 L706.55,59.60 L706.55,55.10 L706.55,50.60 L716.26,50.60 L716.26,46.50 L725.96,46.50 L725.96,43.10 L735.67,43.10 L745.38,43.10 L755.08,43.10 L764.79,43.10 L774.49,43.10 L784.20,43.10" fill="none" stroke="#000" stroke-width="1.1"/>
<path fill="#000" d="M469,373 471.6,369.3 475.6,369.3 478.2,373 478.2,374.2 475.6,378 471.6,378 469,374.2ZM469,369.3 471.6,365.5 475.6,365.5 478.2,369.3 478.2,370.5 475.6,374.2 471.6,374.2 469,370.5ZM469,365.5 471.6,361.7 475.6,361.7 478.2,365.5 478.2,366.7 475.6,370.4 471.6,370.4 469,366.7ZM469,361.7 471.6,357.9 475.6,357.9 478.2,361.7 478.2,362.9 475.6,366.6 471.6,366.6 469,362.9ZM469,357.9 471.6,354.1 475.6,354.1 478.2,357.9 478.2,359.1 475.6,362.8 471.6,362.8 469,359.1ZM469,354.1 471.6,350.3 475.6,350.3 478.2,354.1 478.2,355.3 475.6,359 471.6,359 469,355.3ZM469,350.3 471.6,346.5 475.6,346.5 478.2,350.3 478.2,351.5 475.6,355.2 471.6,355.2 469,351.5ZM469,346.5 471.6,342.7 475.6,342.7 478.2,346.5 478.2,347.7 475.6,351.4 471.6,351.4 469,347.7ZM469,342.7 471.6,339 475.6,339 478.2,342.7 478.2,343.9 475.6,347.7 471.6,347.7 469,343.9ZM469,338.9 471.6,335.2 475.6,335.2 478.2,338.9 478.2,340.1 475.6,343.9 471.6,343.9 469,340.1ZM469,335.1 471.6,331.4 475.6,331.4 478.2,335.1 478.2,336.3 475.6,340.1 471.6,340.1 469,336.3ZM469,331.3 471.6,327.6 475.6,327.6 478.2,331.3 478.2,332.5 475.6,336.3 471.6,336.3 469,332.5ZM469,327.5 471.6,323.8 475.6,323.8 478.2,327.5 478.2,328.7 475.6,332.5 471.6,332.5 469,328.7ZM469,323.7 471.6,320 475.6,320 478.2,323.7 478.2,324.9 475.6,328.7 471.6,328.7 469,324.9ZM469,319.9 471.6,316.2 475.6,316.2 478.2,319.9 478.2,321.1 475.6,324.9 471.6,324.9 469,321.1ZM469,316.2 471.6,312.4 475.6,312.4 478.2,316.2 478.2,317.4 475.6,321.1 471.6,321.1 469,317.4ZM469,312.4 471.6,308.6 475.6,308.6 478.2,312.4 478.2,313.6 475.6,317.3 471.6,317.3 469,313.6ZM469,308.6 471.6,304.8 475.6,304.8 478.2,308.6 478.2,309.8 475.6,313.5 471.6,313.5 469,309.8ZM469,304.8 471.6,301 475.6,301 478.2,304.8 478.2,306 475.6,309.7 471.6,309.7 469,306ZM469,301 471.6,297.2 475.6,297.2 478.2,301 478.2,302.2 475.6,305.9 471.6,305.9 469,302.2ZM469,297.2 471.6,293.4 475.6,293.4 478.2,297.2 478.2,298.4 475.6,302.1 471.6,302.1 469,298.4ZM469,293.4 471.6,289.6 475.6,289.6 478.2,293.4 478.2,294.6 475.6,298.3 471.6,298.3 469,294.6ZM469,289.6 471.6,285.8 475.6,285.8 478.2,289.6 478.2,290.8 475.6,294.6 471.6,294.6 469,290.8ZM478.7,290.3 481.3,286.5 485.3,286.5 487.9,290.3 487.9,291.5 485.3,295.2 481.3,295.2 478.7,291.5ZM488.4,290.3 491,286.5 495,286.5 497.6,290.3 497.6,291.5 495,295.2 491,295.2 488.4,291.5ZM488.4,286.5 491,282.8 495,282.8 497.6,286.5 497.6,287.7 495,291.5 491,291.5 488.4,287.7ZM488.4,282.7 491,279 495,279 497.6,282.7 497.6,283.9 495,287.7 491,287.7 488.4,283.9ZM488.4,278.9 491,275.2 495,275.2 497.6,278.9 497.6,280.1 495,283.9 491,283.9 488.4,280.1ZM488.4,275.2 491,271.4 495,271.4 497.6,275.2 497.6,276.4 495,280.1 491,280.1 488.4,276.4ZM488.4,271.4 491,267.6 495,267.6 497.6,271.4 497.6,272.6 495,276.3 491,276.3 488.4,272.6ZM488.4,267.6 491,263.8 495,263.8 497.6,267.6 497.6,268.8 495,272.6 491,272.6 488.4,268.8ZM498.1,268.3 500.7,264.5 504.7,264.5 507.3,268.3 507.3,269.5 504.7,273.2 500.7,273.2 498.1,269.5ZM507.8,268.3 510.4,264.5 514.4,264.5 517,268.3 517,269.5 514.4,273.2 510.4,273.2 507.8,269.5ZM507.8,264.2 510.4,260.4 514.4,260.4 517,264.2 517,265.4 514.4,269.2 510.4,269.2 507.8,265.4ZM517.5,264.2 520.1,260.4 524.1,260.4 526.7,264.2 526.7,265.4 524.1,269.2 520.1,269.2 517.5,265.4ZM517.5,260.6 520.1,256.9 524.1,256.9 526.7,260.6 526.7,261.8 524.1,265.6 520.1,265.6 517.5,261.8ZM517.5,257 520.1,253.3 524.1,253.3 526.7,257 526.7,258.2 524.1,262 520.1,262 517.5,258.2ZM517.5,253.4 520.1,249.7 524.1,249.7 526.7,253.4 526.7,254.6 524.1,258.4 520.1,258.4 517.5,254.6ZM517.5,249.8 520.1,246.1 524.1,246.1 526.7,249.8 526.7,251 524.1,254.8 520.1,254.8 517.5,251ZM517.5,246.3 520.1,242.5 524.1,242.5 526.7,246.3 526.7,247.5 524.1,251.2 520.1,251.2 517.5,247.5ZM517.5,242.7 520.1,238.9 524.1,238.9 526.7,242.7 526.7,243.9 524.1,247.6 520.1,247.6 517.5,243.9ZM517.5,239.1 520.1,235.3 524.1,235.3 526.7,239.1 526.7,240.3 524.1,244 520.1,244 517.5,240.3ZM517.5,235.5 520.1,231.7 524.1,231.7 526.7,235.5 526.7,236.7 524.1,240.4 520.1,240.4 517.5,236.7ZM517.5,231.9 520.1,228.2 524.1,228.2 526.7,231.9 526.7,233.1 524.1,236.8 520.1,236.8 517.5,233.1ZM527.2,232.7 529.8,229 533.8,229 536.4,232.7 536.4,233.9 533.8,237.7 529.8,237.7 527.2,233.9ZM527.2,228.7 529.8,225 533.8,225 536.4,228.7 536.4,229.9 533.8,233.7 529.8,233.7 527.2,229.9ZM536.9,228.7 539.5,225 543.5,225 546.1,228.7 546.1,229.9 543.5,233.7 539.5,233.7 536.9,229.9ZM546.6,228.7 549.2,225 553.2,225 555.9,228.7 555.9,229.9 553.2,233.7 549.2,233.7 546.6,229.9ZM556.4,228.7 559,225 563,225 565.6,228.7 565.6,229.9 563,233.7 559,233.7 556.4,229.9ZM566.1,228.2 568.7,224.5 572.7,224.5 575.3,228.2 575.3,229.4 572.7,233.2 568.7,233.2 566.1,229.4ZM566.1,224.5 568.7,220.8 572.7,220.8 575.3,224.5 575.3,225.7 572.7,229.4 568.7,229.4 566.1,225.7ZM575.8,224.5 578.4,220.8 582.4,220.8 585,224.5 585,225.7 582.4,229.4 578.4,229.4 575.8,225.7ZM575.8,220.4 578.4,216.6 582.4,216.6 585,220.4 585,221.6 582.4,225.3 578.4,225.3 575.8,221.6ZM575.8,216.2 578.4,212.5 582.4,212.5 585,216.2 585,217.4 582.4,221.2 578.4,221.2 575.8,217.4ZM575.8,212.1 578.4,208.4 582.4,208.4 585,212.1 585,213.3 582.4,217.1 578.4,217.1 575.8,213.3ZM575.8,208 578.4,204.2 582.4,204.2 585,208 585,209.2 582.4,212.9 578.4,212.9 575.8,209.2ZM585.5,208 588.1,204.2 592.1,204.2 594.7,208 594.7,209.2 592.1,212.9 588.1,212.9 585.5,209.2ZM585.5,202.5 588.1,198.8 592.1,198.8 594.7,202.5 594.7,203.7 592.1,207.4 588.1,207.4 585.5,203.7ZM595.2,203.4 597.8,199.7 601.8,199.7 604.4,203.4 604.4,204.6 601.8,208.3 597.8,208.3 595.2,204.6ZM595.2,199.7 597.8,196 601.8,196 604.4,199.7 604.4,200.9 601.8,204.7 597.8,204.7 595.2,200.9ZM595.2,196.1 597.8,192.3 601.8,192.3 604.4,196.1 604.4,197.3 601.8,201 597.8,201 595.2,197.3ZM595.2,192.4 597.8,188.7 601.8,188.7 604.4,192.4 604.4,193.6 601.8,197.3 597.8,197.3 595.2,193.6ZM595.2,188.7 597.8,185 601.8,185 604.4,188.7 604.4,189.9 601.8,193.7 597.8,193.7 595.2,189.9ZM595.2,185.1 597.8,181.3 601.8,181.3 604.4,185.1 604.4,186.3 601.8,190 597.8,190 595.2,186.3ZM595.2,181.4 597.8,177.7 601.8,177.7 604.4,181.4 604.4,182.6 601.8,186.3 597.8,186.3 595.2,182.6ZM604.9,181.4 607.5,177.7 611.5,177.7 614.1,181.4 614.1,182.6 611.5,186.3 607.5,186.3 604.9,182.6ZM604.9,178.2 607.5,174.5 611.5,174.5 614.1,178.2 614.1,179.4 611.5,183.2 607.5,183.2 604.9,179.4ZM604.9,175 607.5,171.2 611.5,171.2 614.1,175 614.1,176.2 611.5,179.9 607.5,179.9 604.9,176.2ZM604.9,171.8 607.5,168.1 611.5,168.1 614.1,171.8 614.1,173 611.5,176.8 607.5,176.8 604.9,173ZM614.6,172.7 617.2,169 621.2,169 623.8,172.7 623.8,173.9 621.2,177.7 617.2,177.7 614.6,173.9ZM624.3,172.7 626.9,169 630.9,169 633.5,172.7 633.5,173.9 630.9,177.7 626.9,177.7 624.3,173.9ZM624.3,169.3 626.9,165.5 630.9,165.5 633.5,169.3 633.5,170.5 630.9,174.2 626.9,174.2 624.3,170.5ZM624.3,165.8 626.9,162.1 630.9,162.1 633.5,165.8 633.5,167 630.9,170.8 626.9,170.8 624.3,167ZM624.3,162.3 626.9,158.6 630.9,158.6 633.5,162.3 633.5,163.5 630.9,167.3 626.9,167.3 624.3,163.5ZM624.3,158.9 626.9,155.2 630.9,155.2 633.5,158.9 633.5,160.1 630.9,163.8 626.9,163.8 624.3,160.1ZM634,159.9 636.6,156.2 640.6,156.2 643.2,159.9 643.2,161.1 640.6,164.8 636.6,164.8 634,161.1ZM634,156.1 636.6,152.3 640.6,152.3 643.2,156.1 643.2,157.3 640.6,161 636.6,161 634,157.3ZM634,152.2 636.6,148.5 640.6,148.5 643.2,152.2 643.2,153.4 640.6,157.2 636.6,157.2 634,153.4ZM634,148.4 636.6,144.7 640.6,144.7 643.2,148.4 643.2,149.6 640.6,153.3 636.6,153.3 634,149.6ZM634,144.6 636.6,140.8 640.6,140.8 643.2,144.6 643.2,145.8 640.6,149.5 636.6,149.5 634,145.8ZM634,140.7 636.6,137 640.6,137 643.2,140.7 643.2,141.9 640.6,145.7 636.6,145.7 634,141.9ZM634,136.9 636.6,133.2 640.6,133.2 643.2,136.9 643.2,138.1 640.6,141.8 636.6,141.8 634,138.1ZM643.7,137.8 646.3,134.1 650.3,134.1 652.9,137.8 652.9,139 650.3,142.8 646.3,142.8 643.7,139ZM653.4,137.8 656,134.1 660,134.1 662.6,137.8 662.6,139 660,142.8 656,142.8 653.4,139ZM653.4,133.9 656,130.1 660,130.1 662.6,133.9 662.6,135.1 660,138.8 656,138.8 653.4,135.1ZM653.4,129.9 656,126.2 660,126.2 662.6,129.9 662.6,131.1 660,134.9 656,134.9 653.4,131.1ZM653.4,126 656,122.2 660,122.2 662.6,126 662.6,127.2 660,130.9 656,130.9 653.4,127.2ZM653.4,122 656,118.3 660,118.3 662.6,122 662.6,123.2 660,127 656,127 653.4,123.2ZM653.4,118.1 656,114.4 660,114.4 662.6,118.1 662.6,119.3 660,123 656,123 653.4,119.3ZM663.1,120 665.7,116.2 669.7,116.2 672.3,120 672.3,121.2 669.7,124.9 665.7,124.9 663.1,121.2ZM663.1,114.4 665.7,110.7 669.7,110.7 672.3,114.4 672.3,115.6 669.7,119.3 665.7,119.3 663.1,115.6ZM672.8,116.3 675.4,112.6 679.4,112.6 682,116.3 682,117.5 679.4,121.2 675.4,121.2 672.8,117.5ZM672.8,112.6 675.4,108.9 679.4,108.9 682,112.6 682,113.8 679.4,117.6 675.4,117.6 672.8,113.8ZM672.8,109 675.4,105.2 679.4,105.2 682,109 682,110.2 679.4,113.9 675.4,113.9 672.8,110.2ZM672.8,105.3 675.4,101.6 679.4,101.6 682,105.3 682,106.5 679.4,110.2 675.4,110.2 672.8,106.5ZM672.8,101.6 675.4,97.9 679.4,97.9 682,101.6 682,102.8 679.4,106.6 675.4,106.6 672.8,102.8ZM672.8,98 675.4,94.2 679.4,94.2 682,98 682,99.2 679.4,102.9 675.4,102.9 672.8,99.2ZM672.8,94.3 675.4,90.6 679.4,90.6 682,94.3 682,95.5 679.4,99.2 675.4,99.2 672.8,95.5ZM672.8,90.6 675.4,86.9 679.4,86.9 682,90.6 682,91.8 679.4,95.6 675.4,95.6 672.8,91.8ZM672.8,87 675.4,83.2 679.4,83.2 682,87 682,88.2 679.4,91.9 675.4,91.9 672.8,88.2ZM672.8,83.3 675.4,79.6 679.4,79.6 682,83.3 682,84.5 679.4,88.2 675.4,88.2 672.8,84.5ZM682.5,84.4 685.1,80.7 689.1,80.7 691.7,84.4 691.7,85.6 689.1,89.3 685.1,89.3 682.5,85.6ZM682.5,80.3 685.1,76.6 689.1,76.6 691.7,80.3 691.7,81.5 689.1,85.2 685.1,85.2 682.5,81.5ZM682.5,76.2 685.1,72.5 689.1,72.5 691.7,76.2 691.7,77.4 689.1,81.1 685.1,81.1 682.5,77.4ZM692.2,76.9 694.8,73.2 698.8,73.2 701.4,76.9 701.4,78.1 698.8,81.8 694.8,81.8 692.2,78.1ZM692.2,73.3 694.8,69.6 698.8,69.6 701.4,73.3 701.4,74.5 698.8,78.3 694.8,78.3 692.2,74.5ZM692.2,69.7 694.8,66 698.8,66 701.4,69.7 701.4,70.9 698.8,74.7 694.8,74.7 692.2,70.9ZM692.2,66.2 694.8,62.4 698.8,62.4 701.4,66.2 701.4,67.4 698.8,71.1 694.8,71.1 692.2,67.4ZM692.2,62.6 694.8,58.8 698.8,58.8 701.4,62.6 701.4,63.8 698.8,67.5 694.8,67.5 692.2,63.8ZM692.2,59 694.8,55.2 698.8,55.2 701.4,59 701.4,60.2 698.8,64 694.8,64 692.2,60.2ZM702,59 704.6,55.2 708.6,55.2 711.2,59 711.2,60.2 708.6,64 704.6,64 702,60.2ZM702,54.5 704.6,50.8 708.6,50.8 711.2,54.5 711.2,55.7 708.6,59.5 704.6,59.5 702,55.7ZM702,50 704.6,46.2 708.6,46.2 711.2,50 711.2,51.2 708.6,55 704.6,55 702,51.2ZM711.7,50 714.3,46.2 718.3,46.2 720.9,50 720.9,51.2 718.3,55 714.3,55 711.7,51.2ZM711.7,45.9 714.3,42.1 718.3,42.1 720.9,45.9 720.9,47.1 718.3,50.9 714.3,50.9 711.7,47.1ZM721.4,45.9 724,42.1 728,42.1 730.6,45.9 730.6,47.1 728,50.9 724,50.9 721.4,47.1ZM721.4,42.5 724,38.8 728,38.8 730.6,42.5 730.6,43.7 728,47.5 724,47.5 721.4,43.7ZM731.1,42.5 733.7,38.8 737.7,38.8 740.3,42.5 740.3,43.7 737.7,47.5 733.7,47.5 731.1,43.7ZM740.8,42.5 743.4,38.8 747.4,38.8 750,42.5 750,43.7 747.4,47.5 743.4,47.5 740.8,43.7ZM750.5,42.5 753.1,38.8 757.1,38.8 759.7,42.5 759.7,43.7 757.1,47.5 753.1,47.5 750.5,43.7ZM760.2,42.5 762.8,38.8 766.8,38.8 769.4,42.5 769.4,43.7 766.8,47.5 762.8,47.5 760.2,43.7ZM769.9,42.5 772.5,38.8 776.5,38.8 779.1,42.5 779.1,43.7 776.5,47.5 772.5,47.5 769.9,43.7ZM779.6,42.5 782.2,38.8 786.2,38.8 788.8,42.5 788.8,43.7 786.2,47.5 782.2,47.5 779.6,43.7Z"/>
<path d="M473.60,373.65 L473.60,369.87 L473.60,366.09 L473.60,362.32 L473.60,358.54 L473.60,354.76 L473.60,350.98 L473.60,347.21 L473.60,343.43 L473.60,339.65 L473.60,335.87 L473.60,332.10 L473.60,328.32 L473.60,324.54 L473.60,320.76 L473.60,316.99 L473.60,313.21 L473.60,309.43 L473.60,305.65 L473.60,301.88 L473.60,298.10 L473.60,294.32 L473.60,290.54 L473.60,286.77 L473.60,282.99 L473.60,279.21 L473.60,275.43 L473.60,271.66 L473.60,267.88 L473.60,264.10 L483.31,264.10 L483.31,260.00 L493.01,260.60 L493.01,256.50 L502.72,256.50 L512.43,256.50 L522.13,255.00 L522.13,251.00 L531.84,251.80 L541.54,251.80 L541.54,248.12 L541.54,244.45 L541.54,240.78 L541.54,237.10 L541.54,233.43 L541.54,229.75 L541.54,226.07 L541.54,222.40 L541.54,218.72 L541.54,215.05 L541.54,211.38 L541.54,207.70 L551.25,208.50 L551.25,204.40 L560.96,205.20 L560.96,201.30 L560.96,197.40 L560.96,193.50 L560.96,189.60 L560.96,185.70 L570.66,186.60 L580.37,186.60 L580.37,181.10 L590.08,183.00 L590.08,177.40 L599.78,177.40 L609.49,177.90 L619.19,177.90 L619.19,174.23 L619.19,170.57 L619.19,166.90 L619.19,163.23 L619.19,159.57 L619.19,155.90 L628.90,155.90 L638.61,156.80 L638.61,152.94 L638.61,149.08 L638.61,145.22 L638.61,141.36 L638.61,137.50 L648.31,134.00 L658.02,134.30 L667.73,134.30 L667.73,129.70 L667.73,125.10 L677.43,125.10 L677.43,121.18 L677.43,117.26 L677.43,113.35 L677.43,109.43 L677.43,105.51 L677.43,101.59 L677.43,97.67 L677.43,93.75 L677.43,89.84 L677.43,85.92 L677.43,82.00 L687.14,82.00 L687.14,77.40 L687.14,72.80 L696.84,72.60 L696.84,68.50 L706.55,68.50 L706.55,64.40 L706.55,60.30 L716.26,61.00 L716.26,56.50 L716.26,52.00 L725.96,52.00 L725.96,47.20 L735.67,47.20 L735.67,43.10 L745.38,43.10 L755.08,43.10 L764.79,43.10 L774.49,43.10 L784.20,43.10" fill="none" stroke="#aaa" stroke-width="1.1" stroke-dasharray="3,3"/>
<path fill="#999" d="M470.5,372.9 472.1,370.6 475.1,370.6 476.7,372.9 476.7,374.3 475.1,376.6 472.1,376.6 470.5,374.3ZM470.5,369.2 472.1,366.9 475.1,366.9 476.7,369.2 476.7,370.6 475.1,372.9 472.1,372.9 470.5,370.6ZM470.5,365.4 472.1,363.1 475.1,363.1 476.7,365.4 476.7,366.8 475.1,369.1 472.1,369.1 470.5,366.8ZM470.5,361.6 472.1,359.3 475.1,359.3 476.7,361.6 476.7,363 475.1,365.3 472.1,365.3 470.5,363ZM470.5,357.8 472.1,355.5 475.1,355.5 476.7,357.8 476.7,359.2 475.1,361.5 472.1,361.5 470.5,359.2ZM470.5,354.1 472.1,351.8 475.1,351.8 476.7,354.1 476.7,355.5 475.1,357.8 472.1,357.8 470.5,355.5ZM470.5,350.3 472.1,348 475.1,348 476.7,350.3 476.7,351.7 475.1,354 472.1,354 470.5,351.7ZM470.5,346.5 472.1,344.2 475.1,344.2 476.7,346.5 476.7,347.9 475.1,350.2 472.1,350.2 470.5,347.9ZM470.5,342.7 472.1,340.4 475.1,340.4 476.7,342.7 476.7,344.1 475.1,346.4 472.1,346.4 470.5,344.1ZM470.5,339 472.1,336.7 475.1,336.7 476.7,339 476.7,340.4 475.1,342.7 472.1,342.7 470.5,340.4ZM470.5,335.2 472.1,332.9 475.1,332.9 476.7,335.2 476.7,336.6 475.1,338.9 472.1,338.9 470.5,336.6ZM470.5,331.4 472.1,329.1 475.1,329.1 476.7,331.4 476.7,332.8 475.1,335.1 472.1,335.1 470.5,332.8ZM470.5,327.6 472.1,325.3 475.1,325.3 476.7,327.6 476.7,329 475.1,331.3 472.1,331.3 470.5,329ZM470.5,323.8 472.1,321.5 475.1,321.5 476.7,323.8 476.7,325.2 475.1,327.5 472.1,327.5 470.5,325.2ZM470.5,320.1 472.1,317.8 475.1,317.8 476.7,320.1 476.7,321.5 475.1,323.8 472.1,323.8 470.5,321.5ZM470.5,316.3 472.1,314 475.1,314 476.7,316.3 476.7,317.7 475.1,320 472.1,320 470.5,317.7ZM470.5,312.5 472.1,310.2 475.1,310.2 476.7,312.5 476.7,313.9 475.1,316.2 472.1,316.2 470.5,313.9ZM470.5,308.7 472.1,306.4 475.1,306.4 476.7,308.7 476.7,310.1 475.1,312.4 472.1,312.4 470.5,310.1ZM470.5,305 472.1,302.7 475.1,302.7 476.7,305 476.7,306.4 475.1,308.7 472.1,308.7 470.5,306.4ZM470.5,301.2 472.1,298.9 475.1,298.9 476.7,301.2 476.7,302.6 475.1,304.9 472.1,304.9 470.5,302.6ZM470.5,297.4 472.1,295.1 475.1,295.1 476.7,297.4 476.7,298.8 475.1,301.1 472.1,301.1 470.5,298.8ZM470.5,293.6 472.1,291.3 475.1,291.3 476.7,293.6 476.7,295 475.1,297.3 472.1,297.3 470.5,295ZM470.5,289.8 472.1,287.5 475.1,287.5 476.7,289.8 476.7,291.2 475.1,293.5 472.1,293.5 470.5,291.2ZM470.5,286.1 472.1,283.8 475.1,283.8 476.7,286.1 476.7,287.5 475.1,289.8 472.1,289.8 470.5,287.5ZM470.5,282.3 472.1,280 475.1,280 476.7,282.3 476.7,283.7 475.1,286 472.1,286 470.5,283.7ZM470.5,278.5 472.1,276.2 475.1,276.2 476.7,278.5 476.7,279.9 475.1,282.2 472.1,282.2 470.5,279.9ZM470.5,274.7 472.1,272.4 475.1,272.4 476.7,274.7 476.7,276.1 475.1,278.4 472.1,278.4 470.5,276.1ZM470.5,271 472.1,268.7 475.1,268.7 476.7,271 476.7,272.4 475.1,274.7 472.1,274.7 470.5,272.4ZM470.5,267.2 472.1,264.9 475.1,264.9 476.7,267.2 476.7,268.6 475.1,270.9 472.1,270.9 470.5,268.6ZM470.5,263.4 472.1,261.1 475.1,261.1 476.7,263.4 476.7,264.8 475.1,267.1 472.1,267.1 470.5,264.8ZM480.2,263.4 481.8,261.1 484.8,261.1 486.4,263.4 486.4,264.8 484.8,267.1 481.8,267.1 480.2,264.8ZM480.2,259.3 481.8,257 484.8,257 486.4,259.3 486.4,260.7 484.8,263 481.8,263 480.2,260.7ZM489.9,259.9 491.5,257.6 494.5,257.6 496.1,259.9 496.1,261.3 494.5,263.6 491.5,263.6 489.9,261.3ZM489.9,255.8 491.5,253.5 494.5,253.5 496.1,255.8 496.1,257.2 494.5,259.5 491.5,259.5 489.9,257.2ZM499.6,255.8 501.2,253.5 504.2,253.5 505.8,255.8 505.8,257.2 504.2,259.5 501.2,259.5 499.6,257.2ZM509.3,255.8 510.9,253.5 513.9,253.5 515.5,255.8 515.5,257.2 513.9,259.5 510.9,259.5 509.3,257.2ZM519,254.3 520.6,252 523.6,252 525.2,254.3 525.2,255.7 523.6,258 520.6,258 519,255.7ZM519,250.3 520.6,248 523.6,248 525.2,250.3 525.2,251.7 523.6,254 520.6,254 519,251.7ZM528.7,251.1 530.3,248.8 533.3,248.8 534.9,251.1 534.9,252.5 533.3,254.8 530.3,254.8 528.7,252.5ZM538.4,251.1 540,248.8 543,248.8 544.6,251.1 544.6,252.5 543,254.8 540,254.8 538.4,252.5ZM538.4,247.4 540,245.1 543,245.1 544.6,247.4 544.6,248.8 543,251.1 540,251.1 538.4,248.8ZM538.4,243.8 540,241.5 543,241.5 544.6,243.8 544.6,245.2 543,247.5 540,247.5 538.4,245.2ZM538.4,240.1 540,237.8 543,237.8 544.6,240.1 544.6,241.5 543,243.8 540,243.8 538.4,241.5ZM538.4,236.4 540,234.1 543,234.1 544.6,236.4 544.6,237.8 543,240.1 540,240.1 538.4,237.8ZM538.4,232.7 540,230.4 543,230.4 544.6,232.7 544.6,234.1 543,236.4 540,236.4 538.4,234.1ZM538.4,229.1 540,226.8 543,226.8 544.6,229.1 544.6,230.4 543,232.8 540,232.8 538.4,230.4ZM538.4,225.4 540,223.1 543,223.1 544.6,225.4 544.6,226.8 543,229.1 540,229.1 538.4,226.8ZM538.4,221.7 540,219.4 543,219.4 544.6,221.7 544.6,223.1 543,225.4 540,225.4 538.4,223.1ZM538.4,218 540,215.7 543,215.7 544.6,218 544.6,219.4 543,221.7 540,221.7 538.4,219.4ZM538.4,214.3 540,212 543,212 544.6,214.3 544.6,215.7 543,218 540,218 538.4,215.7ZM538.4,210.7 540,208.4 543,208.4 544.6,210.7 544.6,212.1 543,214.4 540,214.4 538.4,212.1ZM538.4,207 540,204.7 543,204.7 544.6,207 544.6,208.4 543,210.7 540,210.7 538.4,208.4ZM548.1,207.8 549.8,205.5 552.8,205.5 554.4,207.8 554.4,209.2 552.8,211.5 549.8,211.5 548.1,209.2ZM548.1,203.7 549.8,201.4 552.8,201.4 554.4,203.7 554.4,205.1 552.8,207.4 549.8,207.4 548.1,205.1ZM557.9,204.5 559.5,202.2 562.5,202.2 564.1,204.5 564.1,205.9 562.5,208.2 559.5,208.2 557.9,205.9ZM557.9,200.6 559.5,198.3 562.5,198.3 564.1,200.6 564.1,202 562.5,204.3 559.5,204.3 557.9,202ZM557.9,196.7 559.5,194.4 562.5,194.4 564.1,196.7 564.1,198.1 562.5,200.4 559.5,200.4 557.9,198.1ZM557.9,192.8 559.5,190.5 562.5,190.5 564.1,192.8 564.1,194.2 562.5,196.5 559.5,196.5 557.9,194.2ZM557.9,188.9 559.5,186.6 562.5,186.6 564.1,188.9 564.1,190.3 562.5,192.6 559.5,192.6 557.9,190.3ZM557.9,185 559.5,182.7 562.5,182.7 564.1,185 564.1,186.4 562.5,188.7 559.5,188.7 557.9,186.4ZM567.6,185.9 569.2,183.6 572.2,183.6 573.8,185.9 573.8,187.3 572.2,189.6 569.2,189.6 567.6,187.3ZM577.3,185.9 578.9,183.6 581.9,183.6 583.5,185.9 583.5,187.3 581.9,189.6 578.9,189.6 577.3,187.3ZM577.3,180.4 578.9,178.1 581.9,178.1 583.5,180.4 583.5,181.8 581.9,184.1 578.9,184.1 577.3,181.8ZM587,182.3 588.6,180 591.6,180 593.2,182.3 593.2,183.7 591.6,186 588.6,186 587,183.7ZM587,176.7 588.6,174.4 591.6,174.4 593.2,176.7 593.2,178.1 591.6,180.4 588.6,180.4 587,178.1ZM596.7,176.7 598.3,174.4 601.3,174.4 602.9,176.7 602.9,178.1 601.3,180.4 598.3,180.4 596.7,178.1ZM606.4,177.2 608,174.9 611,174.9 612.6,177.2 612.6,178.6 611,180.9 608,180.9 606.4,178.6ZM616.1,177.2 617.7,174.9 620.7,174.9 622.3,177.2 622.3,178.6 620.7,180.9 617.7,180.9 616.1,178.6ZM616.1,173.5 617.7,171.2 620.7,171.2 622.3,173.5 622.3,174.9 620.7,177.2 617.7,177.2 616.1,174.9ZM616.1,169.9 617.7,167.6 620.7,167.6 622.3,169.9 622.3,171.3 620.7,173.6 617.7,173.6 616.1,171.3ZM616.1,166.2 617.7,163.9 620.7,163.9 622.3,166.2 622.3,167.6 620.7,169.9 617.7,169.9 616.1,167.6ZM616.1,162.5 617.7,160.2 620.7,160.2 622.3,162.5 622.3,163.9 620.7,166.2 617.7,166.2 616.1,163.9ZM616.1,158.9 617.7,156.6 620.7,156.6 622.3,158.9 622.3,160.3 620.7,162.6 617.7,162.6 616.1,160.3ZM616.1,155.2 617.7,152.9 620.7,152.9 622.3,155.2 622.3,156.6 620.7,158.9 617.7,158.9 616.1,156.6ZM625.8,155.2 627.4,152.9 630.4,152.9 632,155.2 632,156.6 630.4,158.9 627.4,158.9 625.8,156.6ZM635.5,156.1 637.1,153.8 640.1,153.8 641.7,156.1 641.7,157.5 640.1,159.8 637.1,159.8 635.5,157.5ZM635.5,152.2 637.1,149.9 640.1,149.9 641.7,152.2 641.7,153.6 640.1,155.9 637.1,155.9 635.5,153.6ZM635.5,148.4 637.1,146.1 640.1,146.1 641.7,148.4 641.7,149.8 640.1,152.1 637.1,152.1 635.5,149.8ZM635.5,144.5 637.1,142.2 640.1,142.2 641.7,144.5 641.7,145.9 640.1,148.2 637.1,148.2 635.5,145.9ZM635.5,140.7 637.1,138.4 640.1,138.4 641.7,140.7 641.7,142.1 640.1,144.4 637.1,144.4 635.5,142.1ZM635.5,136.8 637.1,134.5 640.1,134.5 641.7,136.8 641.7,138.2 640.1,140.5 637.1,140.5 635.5,138.2ZM645.2,133.3 646.8,131 649.8,131 651.4,133.3 651.4,134.7 649.8,137 646.8,137 645.2,134.7ZM654.9,133.6 656.5,131.3 659.5,131.3 661.1,133.6 661.1,135 659.5,137.3 656.5,137.3 654.9,135ZM664.6,133.6 666.2,131.3 669.2,131.3 670.8,133.6 670.8,135 669.2,137.3 666.2,137.3 664.6,135ZM664.6,129 666.2,126.7 669.2,126.7 670.8,129 670.8,130.4 669.2,132.7 666.2,132.7 664.6,130.4ZM664.6,124.4 666.2,122.1 669.2,122.1 670.8,124.4 670.8,125.8 669.2,128.1 666.2,128.1 664.6,125.8ZM674.3,124.4 675.9,122.1 678.9,122.1 680.5,124.4 680.5,125.8 678.9,128.1 675.9,128.1 674.3,125.8ZM674.3,120.5 675.9,118.2 678.9,118.2 680.5,120.5 680.5,121.9 678.9,124.2 675.9,124.2 674.3,121.9ZM674.3,116.6 675.9,114.3 678.9,114.3 680.5,116.6 680.5,118 678.9,120.3 675.9,120.3 674.3,118ZM674.3,112.6 675.9,110.3 678.9,110.3 680.5,112.6 680.5,114 678.9,116.3 675.9,116.3 674.3,114ZM674.3,108.7 675.9,106.4 678.9,106.4 680.5,108.7 680.5,110.1 678.9,112.4 675.9,112.4 674.3,110.1ZM674.3,104.8 675.9,102.5 678.9,102.5 680.5,104.8 680.5,106.2 678.9,108.5 675.9,108.5 674.3,106.2ZM674.3,100.9 675.9,98.6 678.9,98.6 680.5,100.9 680.5,102.3 678.9,104.6 675.9,104.6 674.3,102.3ZM674.3,97 675.9,94.7 678.9,94.7 680.5,97 680.5,98.4 678.9,100.7 675.9,100.7 674.3,98.4ZM674.3,93.1 675.9,90.8 678.9,90.8 680.5,93.1 680.5,94.5 678.9,96.8 675.9,96.8 674.3,94.5ZM674.3,89.1 675.9,86.8 678.9,86.8 680.5,89.1 680.5,90.5 678.9,92.8 675.9,92.8 674.3,90.5ZM674.3,85.2 675.9,82.9 678.9,82.9 680.5,85.2 680.5,86.6 678.9,88.9 675.9,88.9 674.3,86.6ZM674.3,81.3 675.9,79 678.9,79 680.5,81.3 680.5,82.7 678.9,85 675.9,85 674.3,82.7ZM684,81.3 685.6,79 688.6,79 690.2,81.3 690.2,82.7 688.6,85 685.6,85 684,82.7ZM684,76.7 685.6,74.4 688.6,74.4 690.2,76.7 690.2,78.1 688.6,80.4 685.6,80.4 684,78.1ZM684,72.1 685.6,69.8 688.6,69.8 690.2,72.1 690.2,73.5 688.6,75.8 685.6,75.8 684,73.5ZM693.7,71.9 695.3,69.6 698.3,69.6 699.9,71.9 699.9,73.3 698.3,75.6 695.3,75.6 693.7,73.3ZM693.7,67.8 695.3,65.5 698.3,65.5 699.9,67.8 699.9,69.2 698.3,71.5 695.3,71.5 693.7,69.2ZM703.5,67.8 705.1,65.5 708.1,65.5 709.7,67.8 709.7,69.2 708.1,71.5 705.1,71.5 703.5,69.2ZM703.5,63.7 705.1,61.4 708.1,61.4 709.7,63.7 709.7,65.1 708.1,67.4 705.1,67.4 703.5,65.1ZM703.5,59.6 705.1,57.3 708.1,57.3 709.7,59.6 709.7,61 708.1,63.3 705.1,63.3 703.5,61ZM713.2,60.3 714.8,58 717.8,58 719.4,60.3 719.4,61.7 717.8,64 714.8,64 713.2,61.7ZM713.2,55.8 714.8,53.5 717.8,53.5 719.4,55.8 719.4,57.2 717.8,59.5 714.8,59.5 713.2,57.2ZM713.2,51.3 714.8,49 717.8,49 719.4,51.3 719.4,52.7 717.8,55 714.8,55 713.2,52.7ZM722.9,51.3 724.5,49 727.5,49 729.1,51.3 729.1,52.7 727.5,55 724.5,55 722.9,52.7ZM722.9,46.5 724.5,44.2 727.5,44.2 729.1,46.5 729.1,47.9 727.5,50.2 724.5,50.2 722.9,47.9ZM732.6,46.5 734.2,44.2 737.2,44.2 738.8,46.5 738.8,47.9 737.2,50.2 734.2,50.2 732.6,47.9ZM732.6,42.4 734.2,40.1 737.2,40.1 738.8,42.4 738.8,43.8 737.2,46.1 734.2,46.1 732.6,43.8ZM742.3,42.4 743.9,40.1 746.9,40.1 748.5,42.4 748.5,43.8 746.9,46.1 743.9,46.1 742.3,43.8ZM752,42.4 753.6,40.1 756.6,40.1 758.2,42.4 758.2,43.8 756.6,46.1 753.6,46.1 752,43.8ZM761.7,42.4 763.3,40.1 766.3,40.1 767.9,42.4 767.9,43.8 766.3,46.1 763.3,46.1 761.7,43.8ZM771.4,42.4 773,40.1 776,40.1 777.6,42.4 777.6,43.8 776,46.1 773,46.1 771.4,43.8ZM781.1,42.4 782.7,40.1 785.7,40.1 787.3,42.4 787.3,43.8 785.7,46.1 782.7,46.1 781.1,43.8Z"/>
<text x="140.0" y="15.1" font-size="17" font-weight="normal" text-anchor="start" textLength="29.4" lengthAdjust="spacingAndGlyphs" stroke="#000" stroke-width="0.55">PET</text>
<line x1="177.4" y1="0.3" x2="170.2" y2="17.9" stroke="#000" stroke-width="1.9"/>
<text x="178.6" y="15.1" font-size="17" font-weight="normal" text-anchor="start" textLength="33.6" lengthAdjust="spacingAndGlyphs" stroke="#000" stroke-width="0.55">MRI</text>
<text x="544.8" y="14.9" font-size="17" font-weight="normal" text-anchor="start" textLength="29.8" lengthAdjust="spacingAndGlyphs" stroke="#000" stroke-width="0.55">PET</text>
<line x1="581.0" y1="0.3" x2="574.7" y2="17.5" stroke="#000" stroke-width="1.9"/>
<text x="582.8" y="14.9" font-size="17" font-weight="normal" text-anchor="start" textLength="21.0" lengthAdjust="spacingAndGlyphs" stroke="#000" stroke-width="0.55">CT</text>
<text x="72.10" y="412.0" font-size="15.6" font-weight="normal" text-anchor="middle" textLength="21.9" lengthAdjust="spacingAndGlyphs" stroke="#000" stroke-width="0.8">0.0</text>
<text x="46.9" y="373.65" font-size="16" font-weight="normal" text-anchor="middle" transform="rotate(-90 46.9 373.65)" stroke="#000" stroke-width="0.25">0.0</text>
<text x="134.16" y="412.0" font-size="15.6" font-weight="normal" text-anchor="middle" textLength="21.9" lengthAdjust="spacingAndGlyphs" stroke="#000" stroke-width="0.8">0.2</text>
<text x="46.9" y="307.54" font-size="16" font-weight="normal" text-anchor="middle" transform="rotate(-90 46.9 307.54)" stroke="#000" stroke-width="0.25">0.2</text>
<text x="196.22" y="412.0" font-size="15.6" font-weight="normal" text-anchor="middle" textLength="21.9" lengthAdjust="spacingAndGlyphs" stroke="#000" stroke-width="0.8">0.4</text>
<text x="46.9" y="241.43" font-size="16" font-weight="normal" text-anchor="middle" transform="rotate(-90 46.9 241.43)" stroke="#000" stroke-width="0.25">0.4</text>
<text x="258.28" y="412.0" font-size="15.6" font-weight="normal" text-anchor="middle" textLength="21.9" lengthAdjust="spacingAndGlyphs" stroke="#000" stroke-width="0.8">0.6</text>
<text x="46.9" y="175.32" font-size="16" font-weight="normal" text-anchor="middle" transform="rotate(-90 46.9 175.32)" stroke="#000" stroke-width="0.25">0.6</text>
<text x="320.34" y="412.0" font-size="15.6" font-weight="normal" text-anchor="middle" textLength="21.9" lengthAdjust="spacingAndGlyphs" stroke="#000" stroke-width="0.8">0.8</text>
<text x="46.9" y="109.21" font-size="16" font-weight="normal" text-anchor="middle" transform="rotate(-90 46.9 109.21)" stroke="#000" stroke-width="0.25">0.8</text>
<text x="382.40" y="412.0" font-size="15.6" font-weight="normal" text-anchor="middle" textLength="21.9" lengthAdjust="spacingAndGlyphs" stroke="#000" stroke-width="0.8">1.0</text>
<text x="46.9" y="43.10" font-size="16" font-weight="normal" text-anchor="middle" transform="rotate(-90 46.9 43.10)" stroke="#000" stroke-width="0.25">1.0</text>
<text x="226.6" y="434.9" font-size="16" font-weight="normal" text-anchor="middle" textLength="150" lengthAdjust="spacingAndGlyphs" stroke="#000" stroke-width="0.6">False-Positive Rate</text>
<text x="22.9" y="208.85" font-size="16" font-weight="normal" text-anchor="middle" transform="rotate(-90 22.9 208.85)" textLength="144.2" lengthAdjust="spacingAndGlyphs" stroke="#000" stroke-width="0.35">True-Positive Rate</text>
<text x="473.60" y="412.0" font-size="15.6" font-weight="normal" text-anchor="middle" textLength="21.9" lengthAdjust="spacingAndGlyphs" stroke="#000" stroke-width="0.8">0.0</text>
<text x="448.59999999999997" y="373.65" font-size="16" font-weight="normal" text-anchor="middle" transform="rotate(-90 448.59999999999997 373.65)" stroke="#000" stroke-width="0.25">0.0</text>
<text x="535.72" y="412.0" font-size="15.6" font-weight="normal" text-anchor="middle" textLength="21.9" lengthAdjust="spacingAndGlyphs" stroke="#000" stroke-width="0.8">0.2</text>
<text x="448.59999999999997" y="307.54" font-size="16" font-weight="normal" text-anchor="middle" transform="rotate(-90 448.59999999999997 307.54)" stroke="#000" stroke-width="0.25">0.2</text>
<text x="597.84" y="412.0" font-size="15.6" font-weight="normal" text-anchor="middle" textLength="21.9" lengthAdjust="spacingAndGlyphs" stroke="#000" stroke-width="0.8">0.4</text>
<text x="448.59999999999997" y="241.43" font-size="16" font-weight="normal" text-anchor="middle" transform="rotate(-90 448.59999999999997 241.43)" stroke="#000" stroke-width="0.25">0.4</text>
<text x="659.96" y="412.0" font-size="15.6" font-weight="normal" text-anchor="middle" textLength="21.9" lengthAdjust="spacingAndGlyphs" stroke="#000" stroke-width="0.8">0.6</text>
<text x="448.59999999999997" y="175.32" font-size="16" font-weight="normal" text-anchor="middle" transform="rotate(-90 448.59999999999997 175.32)" stroke="#000" stroke-width="0.25">0.6</text>
<text x="722.08" y="412.0" font-size="15.6" font-weight="normal" text-anchor="middle" textLength="21.9" lengthAdjust="spacingAndGlyphs" stroke="#000" stroke-width="0.8">0.8</text>
<text x="448.59999999999997" y="109.21" font-size="16" font-weight="normal" text-anchor="middle" transform="rotate(-90 448.59999999999997 109.21)" stroke="#000" stroke-width="0.25">0.8</text>
<text x="784.20" y="412.0" font-size="15.6" font-weight="normal" text-anchor="middle" textLength="21.9" lengthAdjust="spacingAndGlyphs" stroke="#000" stroke-width="0.8">1.0</text>
<text x="448.59999999999997" y="43.10" font-size="16" font-weight="normal" text-anchor="middle" transform="rotate(-90 448.59999999999997 43.10)" stroke="#000" stroke-width="0.25">1.0</text>
<text x="627.6" y="432.7" font-size="16" font-weight="normal" text-anchor="middle" textLength="150" lengthAdjust="spacingAndGlyphs" stroke="#000" stroke-width="0.6">False-Positive Rate</text>
<text x="426.2" y="207.75" font-size="16" font-weight="normal" text-anchor="middle" transform="rotate(-90 426.2 207.75)" textLength="144.2" lengthAdjust="spacingAndGlyphs" stroke="#000" stroke-width="0.35">True-Positive Rate</text>
<text x="-0.1" y="434.6" font-size="20" font-weight="normal" text-anchor="start" textLength="12.3" lengthAdjust="spacingAndGlyphs" stroke="#000" stroke-width="0.8">A</text>
<text x="432.2" y="434.6" font-size="20" font-weight="bold" text-anchor="start" textLength="11.3" lengthAdjust="spacingAndGlyphs">B</text>
<line x1="273.7" y1="199.4" x2="302.6" y2="199.4" stroke="#000" stroke-width="1.2"/>
<circle cx="288.1" cy="199.4" r="3.6" fill="#000"/>
<line x1="273.7" y1="217.5" x2="302.6" y2="217.5" stroke="#aaa" stroke-width="1.2" stroke-dasharray="3,3"/>
<circle cx="288.1" cy="217.5" r="3.2" fill="#999"/>
<text x="316.2" y="205.4" font-size="14.7" font-weight="normal" text-anchor="start" stroke="#000" stroke-width="0.6">SUV mean</text>
<text x="316.2" y="223.6" font-size="14.7" font-weight="normal" text-anchor="start" stroke="#000" stroke-width="0.6">SUV max</text>
<line x1="675.0999999999999" y1="199.4" x2="704.0" y2="199.4" stroke="#000" stroke-width="1.2"/>
<circle cx="689.5" cy="199.4" r="3.6" fill="#000"/>
<line x1="675.0999999999999" y1="217.5" x2="704.0" y2="217.5" stroke="#aaa" stroke-width="1.2" stroke-dasharray="3,3"/>
<circle cx="689.5" cy="217.5" r="3.2" fill="#999"/>
<text x="717.5999999999999" y="205.4" font-size="14.7" font-weight="normal" text-anchor="start" stroke="#000" stroke-width="0.6">SUV mean</text>
<text x="717.5999999999999" y="223.6" font-size="14.7" font-weight="normal" text-anchor="start" stroke="#000" stroke-width="0.6">SUV max</text>
</svg>
</body></html>
